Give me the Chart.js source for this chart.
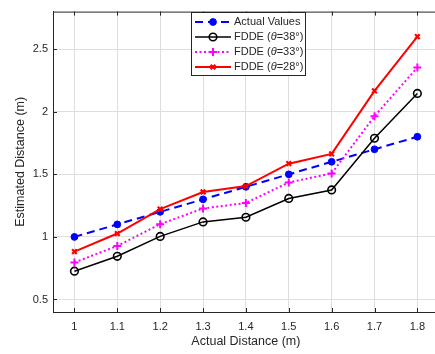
<!DOCTYPE html>
<html>
<head>
<meta charset="utf-8">
<script src="https://cdn.jsdelivr.net/npm/chart.js@4/dist/chart.umd.min.js"></script>
<style>
  html, body { margin: 0; padding: 0; background: #fff; overflow: hidden; }
  #wrap { width: 435px; height: 354px; overflow: hidden; }
</style>
</head>
<body>
<div id="wrap"><canvas id="distChart" width="445" height="354"></canvas></div>
<script>
// Data
const actualDist = [1, 1.1, 1.2, 1.3, 1.4, 1.5, 1.6, 1.7, 1.8];
const actualValues = [1, 1.1, 1.2, 1.3, 1.4, 1.5, 1.6, 1.7, 1.8];
const fdde38 = [0.726, 0.845, 1.004, 1.12, 1.157, 1.307, 1.375, 1.788, 2.146];
const fdde33 = [0.796, 0.928, 1.102, 1.227, 1.271, 1.435, 1.507, 1.964, 2.354];
const fdde28 = [0.882, 1.027, 1.222, 1.359, 1.406, 1.585, 1.663, 2.167, 2.60];
const yTicks = [0.5, 1, 1.5, 2, 2.5];
const legendLabels = ['Actual Values', '38', '33', '28'];

const FONT = "'Liberation Sans', Arial, Helvetica, sans-serif";
const TEXT = '#262626';

function pts(ys) {
    return actualDist.map((x, i) => ({ x: x, y: ys[i] }));
}

// Box top border, inward ticks and the legend (MATLAB look)
const matlabBits = {
    id: 'matlabBits',
    afterDraw(chart) {
        const ctx = chart.ctx;
        const a = chart.chartArea;
        const xs = chart.scales.x, ys = chart.scales.y;
        ctx.save();
        ctx.strokeStyle = TEXT;
        ctx.lineWidth = 1;
        ctx.beginPath();
        ctx.moveTo(a.left, a.top + 0.5);
        ctx.lineTo(a.right, a.top + 0.5);
        actualDist.forEach(v => {
            const px = Math.round(xs.getPixelForValue(v)) + 0.5;
            ctx.moveTo(px, a.bottom); ctx.lineTo(px, a.bottom - 4);
            ctx.moveTo(px, a.top); ctx.lineTo(px, a.top + 4);
        });
        yTicks.forEach(v => {
            const py = Math.round(ys.getPixelForValue(v)) + 0.5;
            ctx.moveTo(a.left, py); ctx.lineTo(a.left + 4, py);
        });
        ctx.stroke();

        // legend
        const bx = 191.5, by = 12.5, bw = 114, bh = 63;
        ctx.fillStyle = '#fff';
        ctx.fillRect(bx, by, bw, bh);
        ctx.strokeStyle = TEXT;
        ctx.strokeRect(bx, by, bw, bh);
        chart.data.datasets.forEach((ds, i) => {
            const ry = 22 + i * 15;
            ctx.save();
            ctx.strokeStyle = ds.borderColor;
            ctx.lineWidth = ds.borderWidth;
            ctx.setLineDash(ds.borderDash || []);
            ctx.beginPath();
            ctx.moveTo(195, ry);
            ctx.lineTo(231, ry);
            ctx.stroke();
            ctx.setLineDash([]);
            ctx.strokeStyle = ds.borderColor;
            ctx.fillStyle = ds.backgroundColor;
            ctx.lineWidth = ds.pointBorderWidth;
            Chart.helpers.drawPoint(ctx, {
                pointStyle: ds.pointStyle,
                radius: ds.pointRadius,
                borderWidth: ds.pointBorderWidth
            }, 213, ry);
            ctx.restore();
            ctx.fillStyle = TEXT;
            ctx.textBaseline = 'middle';
            ctx.textAlign = 'left';
            let tx = 234;
            ctx.font = '11px ' + FONT;
            if (i === 0) {
                ctx.fillText(legendLabels[0], tx, ry);
            } else {
                ctx.fillText('FDDE (', tx, ry);
                tx += ctx.measureText('FDDE (').width;
                ctx.font = 'italic 11px ' + FONT;
                ctx.fillText('\u03b8', tx, ry);
                tx += ctx.measureText('\u03b8').width;
                ctx.font = '11px ' + FONT;
                ctx.fillText('=' + legendLabels[i] + '\u00b0)', tx, ry);
            }
        });
        ctx.restore();
    }
};

const ctx = document.getElementById('distChart').getContext('2d');
new Chart(ctx, {
    type: 'line',
    data: {
        datasets: [{
            label: 'Actual Values',
            data: pts(actualValues),
            borderColor: '#0000ff',
            backgroundColor: '#0000ff',
            borderWidth: 2,
            borderDash: [8, 5],
            pointStyle: 'circle',
            pointRadius: 3.4,
            pointBorderWidth: 1,
            order: 3
        }, {
            label: 'FDDE 38',
            data: pts(fdde38),
            borderColor: '#000000',
            backgroundColor: 'rgba(0,0,0,0)',
            borderWidth: 1.5,
            pointStyle: 'circle',
            pointRadius: 3.8,
            pointBorderWidth: 1.6,
            order: 2
        }, {
            label: 'FDDE 33',
            data: pts(fdde33),
            borderColor: '#ff00ff',
            backgroundColor: '#ff00ff',
            borderWidth: 2,
            borderDash: [2, 2.5],
            pointStyle: 'cross',
            pointRadius: 4,
            pointBorderWidth: 2,
            order: 1
        }, {
            label: 'FDDE 28',
            data: pts(fdde28),
            borderColor: '#ff0000',
            backgroundColor: '#ff0000',
            borderWidth: 2,
            pointStyle: 'crossRot',
            pointRadius: 3.3,
            pointBorderWidth: 2.2,
            order: 0
        }]
    },
    options: {
        responsive: false,
        animation: false,
        devicePixelRatio: 1,
        layout: { padding: { top: 4, right: 0, left: 0, bottom: 0 } },
        plugins: { legend: { display: false }, tooltip: { enabled: false } },
        elements: { line: { tension: 0 } },
        scales: {
            x: {
                type: 'linear',
                min: 0.95,
                max: 1.85,
                afterBuildTicks: s => { s.ticks = actualDist.map(v => ({ value: v })); },
                afterFit: s => { s.height = 42; },
                grid: { color: '#dedede', drawTicks: false },
                border: { color: TEXT, width: 1 },
                ticks: {
                    padding: 8,
                    color: TEXT,
                    font: { family: FONT, size: 11 },
                    maxRotation: 0,
                    callback: v => String(v)
                },
                title: {
                    display: true,
                    text: 'Actual Distance (m)',
                    color: TEXT,
                    font: { family: FONT, size: 12.5 },
                    padding: { top: 0, bottom: 5 }
                }
            },
            y: {
                min: 0.4,
                max: 2.8,
                afterBuildTicks: s => { s.ticks = yTicks.map(v => ({ value: v })); },
                afterFit: s => { s.width = 53; },
                grid: { color: '#dedede', drawTicks: false },
                border: { color: TEXT, width: 1 },
                ticks: {
                    padding: 5,
                    color: TEXT,
                    font: { family: FONT, size: 11 },
                    callback: v => String(v)
                },
                title: {
                    display: true,
                    text: 'Estimated Distance (m)',
                    color: TEXT,
                    font: { family: FONT, size: 12.5 },
                    padding: { top: 13, bottom: 0 }
                }
            }
        }
    },
    plugins: [matlabBits]
});
</script>
</body>
</html>
